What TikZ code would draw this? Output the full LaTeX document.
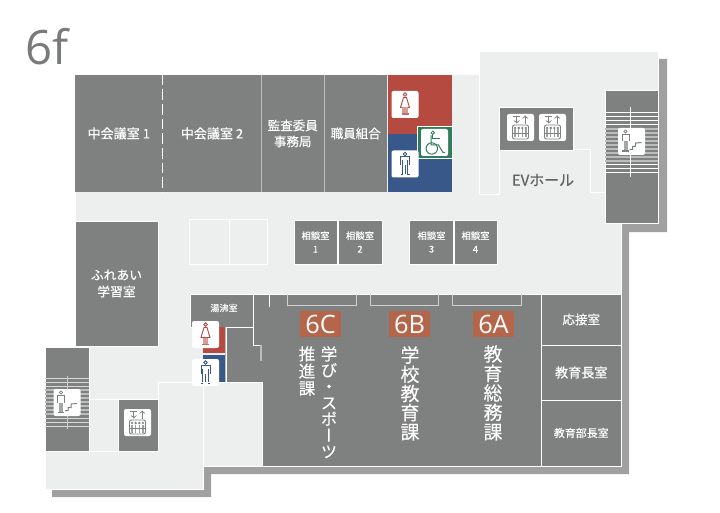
\documentclass[tikz,border=0pt]{standalone}
\usepackage{fontspec}
\newfontfamily\latinfont{Open Sans}
\newfontfamily\jpfont[FakeBold=0.3]{Noto Sans CJK JP}
\newfontfamily\jpvert[RawFeature={+vert}, FakeBold=0.15]{Noto Sans CJK JP}
\definecolor{roomgray}{HTML}{7F8080}
\definecolor{floorgray}{HTML}{EDEEEE}
\definecolor{shadowgray}{HTML}{A0A0A0}
\definecolor{wallgray}{HTML}{BBBDBD}
\definecolor{womanred}{HTML}{B54A40}
\definecolor{manblue}{HTML}{38588A}
\definecolor{wheelgreen}{HTML}{2F7D5B}
\definecolor{badgered}{HTML}{B5654A}
\begin{document}
\begin{tikzpicture}[x=0.75pt, y=-0.75pt,
boxsize/.style 2 args={minimum width=#1*0.75pt, minimum height=#2*0.75pt},
room/.style={rectangle, fill=roomgray, text=white, inner sep=0pt, align=center},
outlined/.style={room, draw=white, line width=0.6pt},
iconbox/.style={rectangle, fill=white, rounded corners=1.5pt, inner sep=0pt, boxsize={27}{27}},
badge/.style={rectangle, fill=badgered, text=white, inner sep=0pt, boxsize={41}{26},
      font=\latinfont\fontsize{19}{19}\selectfont},
bigtext/.style={anchor=north, text=white, inner sep=0pt, align=center},
wall/.style={draw=white, line width=0.75pt},
stripe/.style={draw=white, line width=0.75pt},
pics/manicon/.style={code={
  \draw[manblue, line width=0.6pt] (0,-10) circle (1.7);
  \draw[manblue, line width=0.75pt] (-4.5,1) -- (-4.5,-7) -- (4.5,-7) -- (4.5,1);
  \draw[manblue, line width=0.75pt] (-2.7,-3.5) -- (-2.7,10.5) -- (-4.5,10.5);
  \draw[manblue, line width=0.75pt] (2.7,-3.5) -- (2.7,10.5) -- (4.5,10.5);
  \draw[manblue, line width=0.75pt] (0,1.5) -- (0,10.5);}},
pics/womanicon/.style={code={
  \draw[womanred, line width=0.6pt] (0,-10) circle (1.7);
  \draw[womanred, line width=0.7pt] (-1.5,-7) -- (1.5,-7) -- (4.5,3) -- (-4.5,3) -- cycle;
  \fill[womanred!55] (-2.7,3) rectangle (2.7,9);
  \fill[womanred!80] (-3.5,9) rectangle (3.5,10.5);}},
pics/wheelicon/.style={code={
  \draw[wheelgreen, line width=0.6pt] (-1.7,-9.7) circle (1.7);
  \draw[wheelgreen, line width=0.75pt] (-3.5,-7) -- (-3.5,2.5) -- (4,2.5) -- (8.5,10) -- (10.5,10);
  \draw[wheelgreen, line width=0.75pt] (-1.7,-7) -- (-1.7,-3.5) -- (5,-3.5);
  \draw[wheelgreen, line width=0.75pt] (-2.7,6) circle (5.7);}},
pics/lifticon/.style={code={
  \draw[#1, line width=0.7pt, -to] (-3.7,-11.5) -- (-3.7,-4);
  \draw[#1, line width=0.7pt, -to] (4.7,-3.5) -- (4.7,-12);
  \draw[#1, line width=0.6pt] (-8,-11) -- (-1,-11);
  \draw[#1, line width=0.7pt, rounded corners=1.5pt] (-8,-2.5) rectangle (8,11.5);
  \foreach \i in {-5.4,-1.8,1.8,5.4}{
    \fill[#1] (\i,0.5) circle (1.3);
    \draw[#1!75, line width=1pt] (\i,2) -- (\i,10);}
  \draw[#1, line width=0.4pt] (-8,6) -- (8,6);}},
pics/stairicon/.style={code={
  \draw[roomgray, line width=0.6pt] (-6,-10) circle (1.6);
  \draw[roomgray, line width=0.75pt] (-9.5,0) -- (-9.5,-7) -- (-2.5,-7) -- (-2.5,0);
  \fill[roomgray!70] (-8,0) rectangle (-4,9);
  \fill[roomgray] (-9.5,9) rectangle (-3,10.5);
  \draw[roomgray, line width=0.75pt] (-2,8) -- (1,8) -- (1,5) -- (4,5) -- (4,1.5) -- (10,1);}},
]
\useasboundingbox (0,0) rectangle (720,513);

\fill[shadowgray] (658,59) -- (667,59) -- (667,232) -- (629,232) -- (629,474) -- (211,474)
   -- (211,497) -- (52,497) -- (52,480) -- (203,460) -- (621,220) -- cycle;
\draw[fill=floorgray, wall] (75,75) -- (479,75) -- (479,52) -- (658,52) -- (658,223) -- (621,223)
   -- (621,466) -- (203,466) -- (203,489) -- (45,489) -- (45,347) -- (75,347) -- cycle;

\node[text=roomgray!95!black, inner sep=0pt, font=\latinfont\fontsize{35.5}{36}\selectfont] (title) at (47,47) {6f};

\node[room, boxsize={87.5}{117}, font=\jpfont\fontsize{9.8}{12}\selectfont] (meetA) at (118.75,133.5) {中会議室 1};
\node[room, boxsize={98.5}{117}, font=\jpfont\fontsize{9.8}{12}\selectfont] (meetB) at (212,133.5) {中会議室 2};
\node[room, boxsize={63}{117}, font=\jpfont\fontsize{9.4}{12}\selectfont] (audit) at (292.75,133.5) {監査委員\\事務局};
\node[room, boxsize={63}{117}, font=\jpfont\fontsize{9.4}{12}\selectfont] (union) at (355.75,133.5) {職員組合};
\draw[wall, dashed, dash pattern=on 8pt off 3pt] (meetA.north east) -- (meetA.south east);
\draw[draw=wallgray, line width=0.9pt] (meetB.north east) -- (meetB.south east);
\draw[draw=wallgray, line width=0.9pt] (audit.north east) -- (audit.south east);

\node[rectangle, fill=womanred, inner sep=0pt, boxsize={64}{59}] (redroom) at (420,104.5) {};
\node[rectangle, fill=manblue, inner sep=0pt, boxsize={64}{58}] (blueroom) at (420,163) {};
\node[rectangle, fill=wheelgreen, draw=white, line width=0.6pt, inner sep=0pt, boxsize={35}{32}] (wheelroom) at (434.5,142) {};
\node[iconbox] (wheelbox) at (434.5,142.5) {};
\pic at (wheelbox) {wheelicon};
\node[iconbox] (womanbox) at (405,104.5) {};
\pic at (womanbox) {womanicon};
\node[iconbox] (manbox) at (405,164) {};
\pic at (manbox) {manicon};

% EV hall
\draw[wall] (479,52) -- (479,195) -- (499,195) -- (499,150) -- (590,150) -- (590,193) -- (605,193);
\node[outlined, boxsize={74}{43}] (liftroom) at (536,128.5) {};
\node[iconbox] (liftA) at (520.5,127.5) {};
\node[iconbox] (liftB) at (552.5,127.5) {};
\pic at (liftA) {lifticon=roomgray};
\pic at (liftB) {lifticon=roomgray};
\node[text=black!62, inner sep=0pt, font=\jpfont\fontsize{11.2}{12}\selectfont] (hall) at (543,180) {EVホール};

% right stairs
\node[outlined, boxsize={53}{133}] (stairR) at (631.5,156.5) {};
\foreach \y in {113,117,121,125,165,169,173}
  \draw[stripe] (605,\y) -- (658,\y);
\foreach \y in {129,133,...,161}
  \draw[stripe, draw=wallgray, line width=1.1pt] (605,\y) -- (658,\y);
\draw[stripe] (630,107) -- (630,177);
\node[iconbox] (stairboxR) at (631.5,141.5) {};
\pic at (stairboxR) {stairicon};

\node[outlined, boxsize={43}{44}, font=\jpfont\fontsize{7}{10}\selectfont] (talkA) at (315.5,242) {相談室\\1};
\node[outlined, boxsize={44}{44}, font=\jpfont\fontsize{7}{10}\selectfont] (talkB) at (360,242) {相談室\\2};
\node[outlined, boxsize={44}{44}, font=\jpfont\fontsize{7}{10}\selectfont] (talkC) at (431.5,242) {相談室\\3};
\node[outlined, boxsize={43}{44}, font=\jpfont\fontsize{7}{10}\selectfont] (talkD) at (475.5,242) {相談室\\4};

\node[rectangle, wall, boxsize={40}{44}, inner sep=0pt] (emptyA) at (209.5,242) {};
\node[rectangle, wall, boxsize={38}{44}, inner sep=0pt] (emptyB) at (248.5,242) {};

\node[outlined, boxsize={83}{125}, font=\jpfont\fontsize{9.6}{12.5}\selectfont] (fureai) at (116.5,283.5) {ふれあい\\学習室};

% offices
\draw[fill=roomgray, wall] (190,294) -- (621,294) -- (621,466) -- (262,466) -- (262,382) -- (226,382)
   -- (226,327) -- (190,327) -- cycle;
\draw[wall] (253,294) -- (253,345) -- (261,345);
\draw[draw=wallgray, line width=0.9pt] (261,345) -- (261,361);
\draw[wall] (269,294) -- (269,307);
\draw[wall] (190,327) -- (253,327);
\node[text=white, inner sep=0pt, font=\jpfont\fontsize{6.8}{8}\selectfont] (kitchen) at (224,308) {湯沸室};
\fill[womanred] (203,327) rectangle (225,353);
\fill[manblue] (203,355) rectangle (225,382);
\draw[draw=wallgray, line width=0.75pt] (225.5,327) -- (225.5,382);
\node[iconbox] (womanboxB) at (205.5,334.5) {};
\pic at (womanboxB) {womanicon};
\node[iconbox] (manboxB) at (205.5,372.5) {};
\pic at (manboxB) {manicon};

\foreach \xa/\xb in {287/356, 370/438, 452.5/521.5}
  \draw[draw=wallgray!70!white, line width=0.75pt] (\xa,294) -- (\xa,305) -- (\xb,305) -- (\xb,294);

\node[badge] (badgeC) at (320.5,324) {6C};
\node[badge] (badgeB) at (409.5,324) {6B};
\node[badge] (badgeA) at (493.5,324) {6A};
\node[bigtext, font=\jpvert\fontsize{12.4}{12.2}\selectfont] (sports) at (329,346) {学\\び\\・\\ス\\ポ\\ー\\ツ};
\node[bigtext, font=\jpvert\fontsize{12.4}{12.9}\selectfont] (sportsB) at (307,346) {推\\進\\課};
\node[bigtext, font=\jpvert\fontsize{14.2}{14.4}\selectfont] (school) at (410,346) {学\\校\\教\\育\\課};
\node[bigtext, font=\jpvert\fontsize{14.2}{14.6}\selectfont] (general) at (493,345) {教\\育\\総\\務\\課};

\node[outlined, boxsize={79.5}{51}, font=\jpfont\fontsize{9.4}{12}\selectfont] (guest) at (581.25,319.5) {応接室};
\node[outlined, boxsize={79.5}{55}, font=\jpfont\fontsize{9.8}{12}\selectfont] (chief) at (581.25,372.5) {教育長室};
\node[outlined, boxsize={79.5}{66}, font=\jpfont\fontsize{8.2}{12}\selectfont] (head) at (581.25,433) {教育部長室};

% left stairs and lift
\draw[wall] (203,382) -- (203,466);
\draw[wall] (158,399) -- (158,382) -- (262,382);
\draw[wall] (45,451) -- (158,451);
\draw[wall] (89,399) -- (118,399);
\node[outlined, boxsize={44}{104}] (stairL) at (67,399) {};
\node[outlined, boxsize={40}{52}] (liftroomL) at (138,425) {};
\foreach \y in {378,382,386,418,422,426}
  \draw[stripe, draw=white!85!black] (45,\y) -- (89,\y);
\foreach \y in {390,394,...,414}
  \draw[stripe, draw=wallgray, line width=1.1pt] (45,\y) -- (89,\y);
\draw[stripe, draw=white!80!black] (67,376) -- (67,429);
\node[iconbox] (stairboxL) at (67,402.5) {};
\pic at (stairboxL) {stairicon};
\node[iconbox] (liftC) at (137.5,422.5) {};
\pic at (liftC) {lifticon=roomgray};
\end{tikzpicture}
\end{document}
